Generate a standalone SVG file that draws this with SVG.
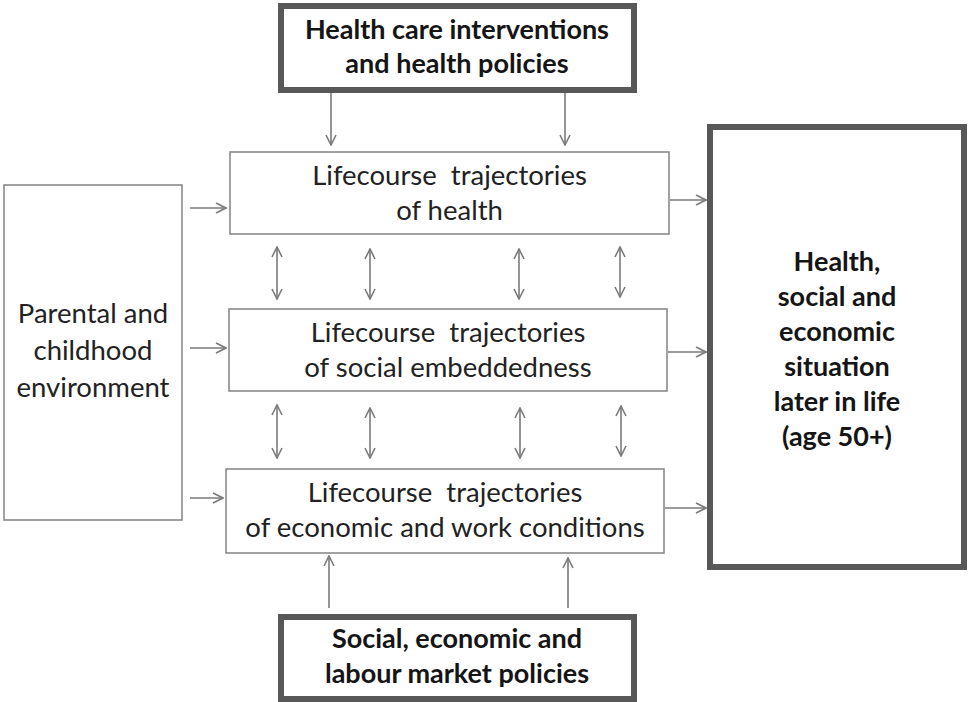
<svg xmlns="http://www.w3.org/2000/svg" width="970" height="702" viewBox="0 0 970 702">
  <style>
    .thin { fill: #fff; stroke: #8a8a8a; stroke-width: 1.6; }
    .thick { fill: #fff; stroke: #585858; stroke-width: 6; }
    .lbl { font-family: Lato, "Liberation Sans", sans-serif; font-size: 27.5px; fill: #222; text-anchor: middle; white-space: pre; }
    .bold { font-weight: bold; font-size: 27px; fill: #151515; }
    .conn { stroke: #7a7a7a; stroke-width: 1.6; fill: none; }
  </style>
  <defs>
    <marker id="head" viewBox="0 0 12 12" refX="11" refY="6" markerWidth="12" markerHeight="12" markerUnits="userSpaceOnUse" orient="auto-start-reverse">
      <path d="M1,1 L11,6 L1,11" fill="none" stroke="#7a7a7a" stroke-width="1.6"/>
    </marker>
  </defs>
  <rect width="970" height="702" fill="#fff"/>

  <g id="policies-health">
    <rect class="thick" x="281" y="6" width="353" height="84"/>
    <text class="lbl bold" x="457" y="39">Health care interventions</text>
    <text class="lbl bold" x="457" y="73">and health policies</text>
  </g>

  <g id="traj-health">
    <rect class="thin" x="230" y="152" width="439" height="82"/>
    <text class="lbl" x="449.5" y="185">Lifecourse  trajectories</text>
    <text class="lbl" x="449.5" y="220">of health</text>
  </g>

  <g id="traj-social">
    <rect class="thin" x="229" y="309" width="438" height="82"/>
    <text class="lbl" x="448" y="342">Lifecourse  trajectories</text>
    <text class="lbl" x="448" y="377">of social embeddedness</text>
  </g>

  <g id="traj-economic">
    <rect class="thin" x="226" y="469" width="438" height="84"/>
    <text class="lbl" x="445" y="502">Lifecourse  trajectories</text>
    <text class="lbl" x="445" y="537">of economic and work conditions</text>
  </g>

  <g id="childhood">
    <rect class="thin" x="4" y="185" width="178" height="335"/>
    <text class="lbl" x="93" y="323">Parental and</text>
    <text class="lbl" x="93" y="360">childhood</text>
    <text class="lbl" x="93" y="397">environment</text>
  </g>

  <g id="outcome">
    <rect class="thick" x="710" y="127" width="254" height="440"/>
    <text class="lbl bold" x="837" y="271">Health,</text>
    <text class="lbl bold" x="837" y="306">social and</text>
    <text class="lbl bold" x="837" y="341">economic</text>
    <text class="lbl bold" x="837" y="376">situation</text>
    <text class="lbl bold" x="837" y="411">later in life</text>
    <text class="lbl bold" x="837" y="446">(age 50+)</text>
  </g>

  <g id="policies-economic">
    <rect class="thick" x="281" y="617" width="353" height="82"/>
    <text class="lbl bold" x="457" y="648">Social, economic and</text>
    <text class="lbl bold" x="457" y="683">labour market policies</text>
  </g>

  <g id="connectors">
    <!-- health policies down to health trajectories -->
    <line class="conn" x1="331" y1="93" x2="331" y2="145" marker-end="url(#head)"/>
    <line class="conn" x1="565" y1="93" x2="565" y2="145" marker-end="url(#head)"/>
    <!-- childhood environment into each trajectory -->
    <line class="conn" x1="190" y1="208" x2="226" y2="208" marker-end="url(#head)"/>
    <line class="conn" x1="190" y1="348" x2="226" y2="348" marker-end="url(#head)"/>
    <line class="conn" x1="190" y1="498" x2="223" y2="498" marker-end="url(#head)"/>
    <!-- trajectories into later-life outcome -->
    <line class="conn" x1="670" y1="200" x2="706" y2="200" marker-end="url(#head)"/>
    <line class="conn" x1="668" y1="352" x2="706" y2="352" marker-end="url(#head)"/>
    <line class="conn" x1="665" y1="508" x2="706" y2="508" marker-end="url(#head)"/>
    <!-- health <-> social -->
    <line class="conn" x1="277" y1="247" x2="277" y2="299" marker-start="url(#head)" marker-end="url(#head)"/>
    <line class="conn" x1="370" y1="249" x2="370" y2="299" marker-start="url(#head)" marker-end="url(#head)"/>
    <line class="conn" x1="519" y1="249" x2="519" y2="299" marker-start="url(#head)" marker-end="url(#head)"/>
    <line class="conn" x1="620" y1="247" x2="620" y2="297" marker-start="url(#head)" marker-end="url(#head)"/>
    <!-- social <-> economic -->
    <line class="conn" x1="277" y1="405" x2="277" y2="458" marker-start="url(#head)" marker-end="url(#head)"/>
    <line class="conn" x1="370" y1="408" x2="370" y2="458" marker-start="url(#head)" marker-end="url(#head)"/>
    <line class="conn" x1="520" y1="408" x2="520" y2="458" marker-start="url(#head)" marker-end="url(#head)"/>
    <line class="conn" x1="621" y1="406" x2="621" y2="456" marker-start="url(#head)" marker-end="url(#head)"/>
    <!-- economic policies up to economic trajectories -->
    <line class="conn" x1="329" y1="608" x2="329" y2="556" marker-end="url(#head)"/>
    <line class="conn" x1="568" y1="608" x2="568" y2="558" marker-end="url(#head)"/>
  </g>
</svg>
